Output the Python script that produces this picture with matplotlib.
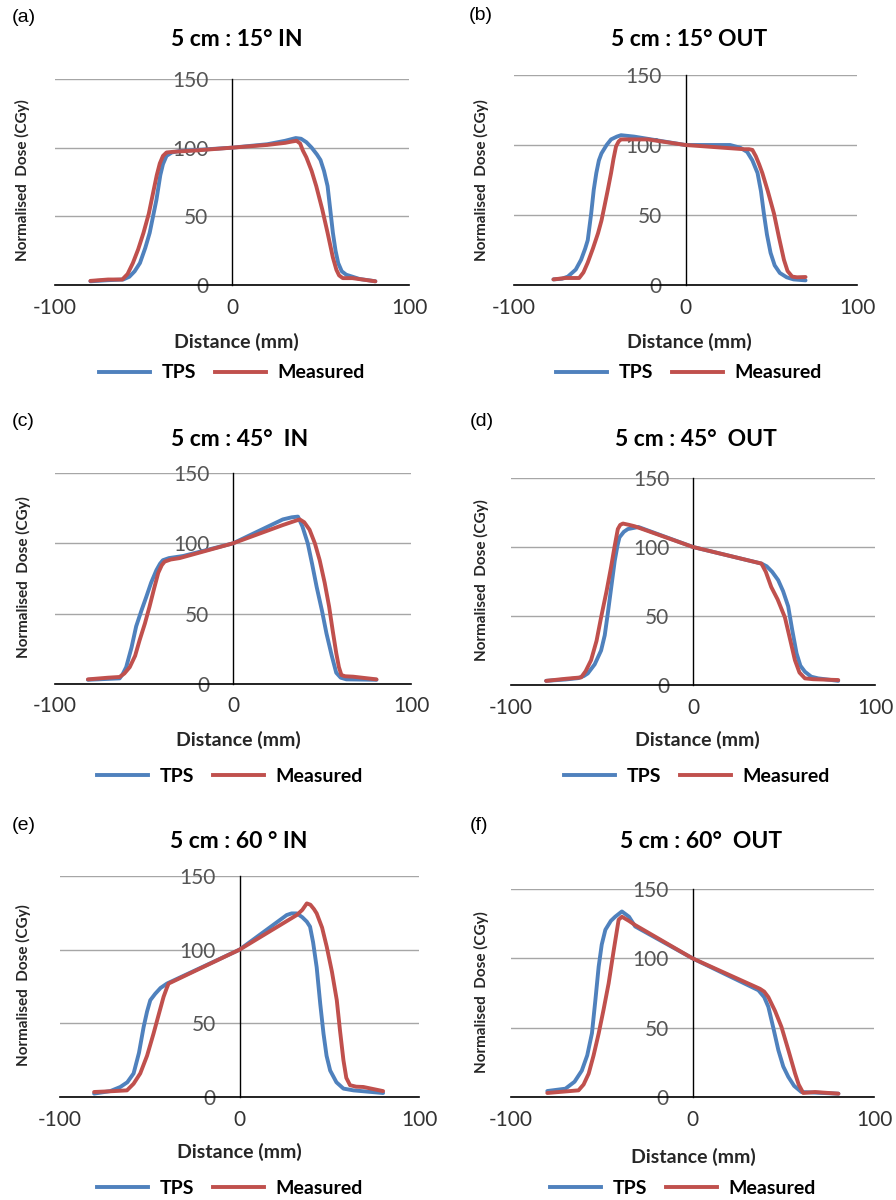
import matplotlib
matplotlib.use("Agg")
import matplotlib.pyplot as plt
from matplotlib.lines import Line2D

plt.rcParams['font.family'] = ['Lato', 'DejaVu Sans']
plt.rcParams['axes.unicode_minus'] = False

W, H = 896, 1200

# dose profiles, distance in mm, normalised dose
a_tps_x = [-80, -70, -61.5, -58, -55, -52, -49, -46.5, -42.7, -40.5, -39, -37, -34, -30, 0, 20, 30, 36, 39, 42, 45, 48, 50, 52, 54, 57, 58.5, 60, 62, 64.5, 72, 81]
a_tps_y = [2.7, 3.5, 4, 6, 10, 16, 27, 38, 62, 80, 88, 94, 96.5, 97.5, 100, 102.5, 105, 107, 106.5, 104, 100, 95, 91, 83, 72, 38, 25, 16, 10, 7.5, 4.4, 2.7]
a_meas_x = [-80, -70, -62, -59, -56, -53, -50, -47, -44.6, -42.5, -40.8, -39, -37, -33, -20, 0, 20, 30, 34, 36.5, 38.5, 40, 42, 45, 47.6, 51, 54, 57, 59, 60.5, 62.6, 68, 81]
a_meas_y = [3, 4, 4, 8, 16, 26, 38, 52, 67, 80, 88.5, 94, 96.5, 97, 98, 100, 102, 103.5, 104.5, 105, 103, 98, 93, 83, 72, 55, 38, 20, 11, 7, 5, 5, 2.7]

b_tps_x = [-77, -72, -68.6, -64, -60.9, -58.5, -57, -55, -53.5, -52, -50.5, -49, -46, -43.4, -40, -37.6, -30, 0, 26, 32, 36, 39, 42, 44, 45.7, 47.5, 49.6, 52, 55, 59, 63, 70]
b_tps_y = [4, 4.5, 6, 11, 18, 26, 32, 51, 68, 80, 89, 94, 100, 104, 106, 107, 106, 100, 100, 98, 95, 89, 80, 67, 51, 36, 23, 14, 8.6, 5.5, 4, 3.3]
b_meas_x = [-77, -70, -62, -59.5, -57, -54, -51, -49, -47.3, -45.3, -43.4, -42, -40.5, -39, -37.6, -22, 0, 34, 37, 39, 41, 43, 44.8, 48, 51.6, 54.5, 57.4, 59.5, 62.2, 65, 70]
b_meas_y = [4, 5, 5, 9, 16, 26, 37, 46, 56, 68, 80, 90, 99, 102.5, 104, 104, 100, 97, 97, 96.5, 92, 86, 80, 67, 51, 34, 18, 10, 6, 5.5, 5.7]

c_tps_x = [-81.5, -63.7, -62, -60, -57, -54.4, -51.5, -48.7, -46, -43, -41, -39.4, -36, -28, 0, 28, 33, 36.5, 39, 42, 44.5, 47, 50, 52.5, 55.5, 58, 60.5, 63.7, 80.6]
c_tps_y = [3, 4, 7, 12, 26, 41, 52, 62, 72, 81, 85.5, 88, 89.5, 91, 100, 117, 118.5, 119, 112, 100, 85, 69, 52, 36, 20, 8, 4.5, 3.3, 3]
c_meas_x = [-81.5, -70, -63.7, -61, -58, -55, -52.5, -49.5, -46.9, -44.3, -42, -40, -38.4, -35, -30, 0, 28, 35, 37.5, 40, 43, 46, 48.7, 51.5, 54, 56, 58, 59.5, 60.9, 63, 67.5, 80.6]
c_meas_y = [3.3, 4.5, 5, 7.5, 12, 20, 31, 43, 55, 68, 79, 84.5, 87, 88.5, 89.5, 100, 113, 116, 117, 115, 109.7, 100, 88, 72, 55, 38, 22, 12, 6.4, 5.5, 5.2, 3.3]

d_tps_x = [-80.7, -70, -63, -60, -57.8, -54, -50.5, -48.5, -46.8, -45, -43, -41.5, -40.4, -38, -35.8, -30, 0, 37.6, 40.5, 43.5, 46.8, 49.5, 52.3, 54.5, 56.9, 59, 61.5, 65, 68.8, 79.8]
d_tps_y = [3, 4, 5, 6.5, 8.4, 15, 25, 36, 52, 70, 90, 101, 107, 111, 113, 114.5, 100, 88, 86, 82, 76, 68, 57, 40, 23, 14, 9.6, 6, 4.8, 3]
d_meas_x = [-80.7, -70, -61.5, -59, -56, -53, -50.5, -47.5, -45, -43, -41.3, -40, -38.5, -35, -32, 0, 37.6, 40, 43, 46.5, 50.5, 53, 56, 58.5, 61.5, 66, 79.8]
d_meas_y = [3, 4.5, 5.5, 10, 18, 32, 49, 68, 85.6, 101, 113, 116, 117, 116, 115, 100, 88, 82, 71, 62, 49, 35, 18, 9, 4.8, 4.2, 3.6]

e_tps_x = [-81, -72, -66.4, -62.5, -59, -56, -53.4, -51.5, -49.7, -47, -44, -40.4, 0, 26.3, 29, 31.9, 35, 37.5, 39.3, 41, 43, 45, 46.8, 48.5, 50.5, 54, 57.9, 63.5, 80]
e_tps_y = [2.3, 4, 6.8, 10, 16, 30, 47.6, 58, 65.7, 70, 74, 77, 100, 123.5, 124.6, 124.6, 122, 119, 115.6, 105, 88, 63, 43, 28, 18, 10, 5.7, 4.5, 2.7]
e_meas_x = [-81, -70, -62.7, -59, -55.3, -51.5, -47.9, -45, -42.3, -40.5, -39.5, 0, 31.9, 35, 37.5, 39.5, 41.5, 43, 46, 48.6, 51.5, 54.2, 56, 57.9, 59.5, 61.6, 65, 69, 80]
e_meas_y = [3.4, 4, 4.5, 9, 16, 28, 43, 56, 68, 74, 77, 100, 123.5, 127, 131.4, 130.5, 127.5, 124.6, 115, 102, 85, 65.7, 45, 25, 13, 8, 7, 6.8, 4]

f_tps_x = [-80, -70, -65, -61, -58, -55.4, -53.5, -51.7, -50, -48, -45, -42.6, -38.9, -35, -31.6, 0, 36.3, 39.5, 41.8, 44.5, 47.3, 50, 52.8, 56, 60, 80.4]
f_tps_y = [4.3, 6, 11, 19, 30, 46, 70, 94, 110, 120.6, 127, 130, 133.8, 130, 123, 100, 77, 72, 65, 50, 33.8, 22, 14.5, 8, 3.6, 2.4]
f_meas_x = [-80, -70, -62.8, -60, -57.2, -54.5, -51.7, -49, -46.2, -43.5, -40.7, -38.9, -35, -31.6, 0, 37.2, 39.5, 41.8, 45.5, 49, 53, 56.5, 58.5, 61, 67.5, 80.4]
f_meas_y = [2.9, 4, 4.8, 9, 16.9, 30, 45.8, 63, 82, 105, 127.8, 130, 127, 124, 100, 78, 76, 72, 62, 50.6, 33, 17, 9, 2.9, 3.6, 2.4]

titles = ["5 cm : 15° IN", "5 cm : 15° OUT", "5 cm : 45°  IN",
          "5 cm : 45°  OUT", "5 cm : 60 ° IN", "5 cm : 60°  OUT"]
letters = ["(a)", "(b)", "(c)", "(d)", "(e)", "(f)"]
x_ticks = [-100, 0, 100]
y_ticks = [0, 50, 100, 150]

TPS_COL = '#4f81bd'
MEAS_COL = '#c0504d'

# pixel layout of each panel: x at -100, x at 100, y at 0, y at 150
boxes = [(55, 409, 285, 79), (514, 857, 285, 75),
         (55, 411, 684, 473), (511, 875, 685, 478),
         (60, 419, 1097, 876), (511, 874, 1097, 889)]
title_pos = [(237, 39), (689, 39), (240, 439), (696, 440), (239, 842), (701, 842)]
letter_pos = [(12, 18), (469, 16), (12, 422), (470, 422), (12, 825), (470, 825)]
ylab_pos = [(22, 180), (481, 180), (23, 577), (481, 580), (23, 985), (481, 992)]
xlab_pos = [(236, 342), (689, 342), (238, 740), (697, 740), (239, 1152), (693, 1157)]
leg_pos = [(232, 373), (689, 373), (230, 776), (697, 776), (230, 1188), (683, 1188)]

series = [(a_tps_x, a_tps_y, a_meas_x, a_meas_y),
          (b_tps_x, b_tps_y, b_meas_x, b_meas_y),
          (c_tps_x, c_tps_y, c_meas_x, c_meas_y),
          (d_tps_x, d_tps_y, d_meas_x, d_meas_y),
          (e_tps_x, e_tps_y, e_meas_x, e_meas_y),
          (f_tps_x, f_tps_y, f_meas_x, f_meas_y)]


def fx(px):
    return px / W


def fy(py):
    return 1 - py / H


fig = plt.figure(figsize=(W / 100, H / 100), dpi=100)
fig.patch.set_facecolor('white')

for i in range(6):
    x0, x1, y0, y150 = boxes[i]
    ax = fig.add_axes([fx(x0), fy(y0), (x1 - x0) / W, (y0 - y150) / H])
    ax.set_xlim(-100, 100)
    ax.set_ylim(0, 150)
    tx, ty, mx, my = series[i]
    ax.plot(tx, ty, color=TPS_COL, lw=2.8, zorder=3, clip_on=False,
            solid_joinstyle='round', solid_capstyle='round')
    ax.plot(mx, my, color=MEAS_COL, lw=2.8, zorder=3, clip_on=False,
            solid_joinstyle='round', solid_capstyle='round')

    ax.set_facecolor('none')
    for s in ['top', 'right']:
        ax.spines[s].set_visible(False)
    ax.spines['left'].set_position(('data', 0))
    ax.spines['left'].set_linewidth(1.0)
    ax.spines['bottom'].set_linewidth(1.2)
    ax.set_xticks(x_ticks)
    ax.set_yticks(y_ticks)
    ax.tick_params(axis='x', length=0, pad=9, labelsize=15, labelcolor='#333333')
    ax.tick_params(axis='y', length=0, pad=17, labelsize=15, labelcolor='#555555')
    ax.grid(axis='y', color='#a6a6a6', lw=1.0)
    ax.set_axisbelow(True)

    fig.text(fx(title_pos[i][0]), fy(title_pos[i][1]), titles[i], fontsize=16.5,
             fontweight='bold', ha='center', va='center')
    fig.text(fx(letter_pos[i][0]), fy(letter_pos[i][1]), letters[i], fontsize=14,
             family='Liberation Sans', ha='left', va='center')
    fig.text(fx(ylab_pos[i][0]), fy(ylab_pos[i][1]), "Normalised  Dose (CGy)",
             fontsize=11, fontweight='bold', rotation=90, ha='center', va='center',
             color='#262626')
    fig.text(fx(xlab_pos[i][0]), fy(xlab_pos[i][1]), "Distance (mm)", fontsize=14,
             fontweight='bold', ha='center', va='center', color='#262626')

    handles = [Line2D([], [], color=TPS_COL, lw=2.8),
               Line2D([], [], color=MEAS_COL, lw=2.8)]
    fig.legend(handles, ["TPS", "Measured"], loc='center',
               bbox_to_anchor=(fx(leg_pos[i][0]), fy(leg_pos[i][1])),
               ncol=2, frameon=False, handlelength=2.6, columnspacing=1.0,
               handletextpad=0.6, prop={'weight': 'bold', 'size': 14})

fig.savefig('out.png', dpi=100, facecolor='white')
